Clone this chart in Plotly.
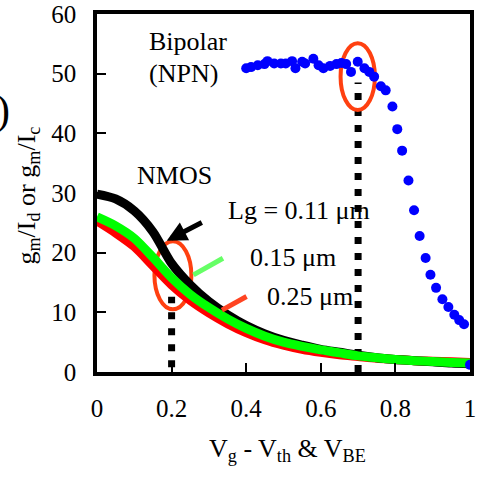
import plotly.graph_objects as go

# ---------------- data ----------------
nm_x = [0, 0.05, 0.1, 0.15, 0.2, 0.25, 0.3, 0.35, 0.4, 0.45, 0.5, 0.55, 0.6, 0.65, 0.7, 0.75, 0.8, 0.85, 0.9, 0.95, 1.0]
nmos_011 = [29.8, 29.0, 27.0, 23.5, 18.2, 14.6, 11.8, 9.6, 7.8, 6.4, 5.3, 4.5, 3.8, 3.3, 2.8, 2.4, 2.1, 1.9, 1.7, 1.5, 1.4]
nmos_015 = [26.0, 24.5, 22.4, 19.2, 15.8, 13.0, 10.8, 8.9, 7.3, 6.0, 5.0, 4.3, 3.7, 3.2, 2.7, 2.4, 2.1, 1.9, 1.75, 1.6, 1.5]
nmos_025 = [25.3, 23.3, 21.0, 17.8, 14.6, 12.0, 9.9, 8.1, 6.6, 5.4, 4.5, 3.8, 3.3, 2.9, 2.6, 2.3, 2.1, 1.9, 1.8, 1.7, 1.6]

bip_x = [0.400, 0.413, 0.431, 0.449, 0.457, 0.475, 0.493, 0.506, 0.523, 0.532, 0.550, 0.558, 0.580,
         0.594, 0.607, 0.625, 0.642, 0.655, 0.668, 0.681, 0.699, 0.717, 0.730, 0.743, 0.761, 0.774,
         0.792, 0.805, 0.818, 0.835, 0.850, 0.865, 0.881, 0.894, 0.909, 0.926, 0.942, 0.958, 0.971,
         0.984, 1.0]
bip_y = [50.9, 51.1, 51.4, 51.6, 52.1, 51.7, 51.7, 51.7, 52.1, 50.9, 52.0, 51.7, 52.5,
         51.4, 50.9, 51.3, 51.6, 51.8, 51.6, 50.3, 52.0, 50.9, 50.3, 49.5, 47.9, 47.2,
         44.5, 40.7, 37.1, 32.1, 27.1, 22.8, 19.1, 16.3, 14.1, 12.2, 10.9, 9.6, 8.7,
         8.0, 1.2]

x_ticks = [0, 0.2, 0.4, 0.6, 0.8, 1.0]
x_tick_labels = ["0", "0.2", "0.4", "0.6", "0.8", "1"]
y_ticks = [0, 10, 20, 30, 40, 50, 60]

FONT = "Liberation Serif, Times New Roman, serif"

fig = go.Figure()
fig.add_trace(go.Scatter(x=nm_x, y=nmos_025, mode="lines", line=dict(color="#ff0000", width=9, shape="spline", smoothing=0.8), showlegend=False))
fig.add_trace(go.Scatter(x=nm_x, y=nmos_011, mode="lines", line=dict(color="#000000", width=9, shape="spline", smoothing=0.8), showlegend=False))
fig.add_trace(go.Scatter(x=nm_x, y=nmos_015, mode="lines", line=dict(color="#00ff00", width=9, shape="spline", smoothing=0.8), showlegend=False))
fig.add_trace(go.Scatter(x=bip_x, y=bip_y, mode="markers", marker=dict(color="#0000ff", size=10), showlegend=False))

# dotted guide lines
fig.add_shape(type="line", x0=0.7, x1=0.7, y0=0, y1=48.5, line=dict(color="black", width=7, dash="7px,9px"), layer="below")
fig.add_shape(type="line", x0=0.2, x1=0.2, y0=0.8, y1=12.6, line=dict(color="black", width=7, dash="7px,9px"), layer="below")
# ellipses
fig.add_shape(type="circle", x0=0.653, x1=0.745, y0=43.9, y1=55.1, line=dict(color="#ff4010", width=4), layer="below")
fig.add_shape(type="circle", x0=0.154, x1=0.253, y0=10.5, y1=21.9, line=dict(color="#ff4010", width=4), layer="below")
# pointer lines
fig.add_shape(type="line", x0=0.3377, y0=19.07, x1=0.2586, y1=16.27, line=dict(color="#66ff66", width=5))
fig.add_shape(type="line", x0=0.401, y0=12.66, x1=0.335, y1=10.36, line=dict(color="#ff4422", width=5))

ann = []
def txt(x, y, s, size=26, xanchor="left"):
    ann.append(dict(x=x, y=y, xref="x", yref="y", text=s, showarrow=False, xanchor=xanchor, yanchor="middle",
                    font=dict(family=FONT, size=size, color="black")))

txt(0.1346, 55.4, "Bipolar")
txt(0.1346, 50.0, "(NPN)")
txt(0.207, 32.9, "NMOS", size=26, xanchor="center")
txt(0.3456, 27.0, "Lg = 0.11 μm")
txt(0.4037, 19.2, "0.15 μm")
txt(0.451, 12.66, "0.25 μm")

ann.append(dict(x=0.187, y=22.0, ax=0.285, ay=25.2, xref="x", yref="y", axref="x", ayref="y", text="",
                showarrow=True, arrowhead=2, arrowsize=0.8, arrowwidth=5, arrowcolor="black"))

ann.append(dict(x=(291 - 97) / 379, y=(372 - 452) / 365, xref="paper", yref="paper", showarrow=False,
                text="V<sub>g</sub> - V<sub>th</sub> &amp; V<sub>BE</sub>", xanchor="center", yanchor="middle",
                font=dict(family=FONT, size=26, color="black")))
ann.append(dict(x=(27 - 97) / 379, y=(372 - 192) / 365, xref="paper", yref="paper", showarrow=False,
                text="g<sub>m</sub>/I<sub>d</sub> or g<sub>m</sub>/I<sub>c</sub>", textangle=-90,
                xanchor="center", yanchor="middle", font=dict(family=FONT, size=26, color="black")))
ann.append(dict(x=(11 - 97) / 379, y=(372 - 105) / 365, xref="paper", yref="paper", showarrow=False,
                text=")", xanchor="right", yanchor="middle", font=dict(family=FONT, size=42, color="black")))

fig.update_layout(
    width=477, height=479,
    margin=dict(l=97, r=1, t=7, b=107),
    paper_bgcolor="white", plot_bgcolor="white",
    annotations=ann,
    font=dict(family=FONT, size=25, color="black"),
)
fig.update_xaxes(range=[0, 1], tickvals=x_ticks, ticktext=x_tick_labels, showgrid=False, zeroline=False,
                 showline=True, linecolor="black", linewidth=3.5, mirror=True,
                 ticks="inside", ticklen=9, tickwidth=1.5, tickcolor="black", ticklabelstandoff=11,
                 ticklabeloverflow="allow",
                 tickfont=dict(family=FONT, size=25, color="black"))
fig.update_yaxes(range=[0, 60], tickvals=y_ticks, showgrid=False, zeroline=False,
                 showline=True, linecolor="black", linewidth=3.5, mirror=True,
                 ticks="inside", ticklen=9, tickwidth=1.5, tickcolor="black", ticklabelstandoff=12,
                 ticklabeloverflow="allow",
                 tickfont=dict(family=FONT, size=25, color="black"))

fig.write_html("out.html")
